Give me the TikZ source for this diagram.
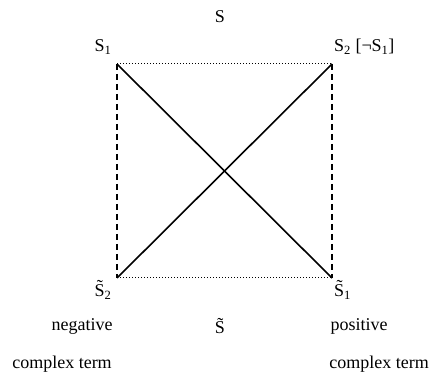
\documentclass[tikz,border=0pt]{standalone}
\usepackage{fontspec}
\setmainfont{Liberation Serif}
\usepackage{tikz}
\usetikzlibrary{calc}

\begin{document}
\begin{tikzpicture}[x=1pt,y=1pt,
    lbl/.style={inner sep=1pt, font=\fontsize{18}{21}\selectfont}]

\useasboundingbox (0,0) rectangle (438,374);

% Corners of the square
\coordinate (tl) at (117,310);
\coordinate (tr) at (332,310);
\coordinate (bl) at (117,96);
\coordinate (br) at (332,96);

% Corner labels
\node[lbl] (s) at (220,357) {S};
\node[lbl] (s1) at (103,327) {S\textsubscript{1}};
\node[lbl, anchor=west] (s2) at (333,327) {S\textsubscript{2} [¬S\textsubscript{1}]};
\node[lbl] (ts2) at (103,84) {\~{S}\textsubscript{2}};
\node[lbl, anchor=west] (ts1) at (333,84) {\~{S}\textsubscript{1}};

% Bottom labels
\node[lbl] (neg) at (82,48) {negative};
\node[lbl] (ts) at (220,48) {\~{S}};
\node[lbl] (pos) at (359,48) {positive};
\node[lbl] (cl) at (62,10) {complex term};
\node[lbl] (cr) at (379,10) {complex term};

% Sides of the square
\draw[dotted, line width=1pt] (tl) -- (tr);
\draw[dotted, line width=1pt] (bl) -- (br);
\draw[dash pattern=on 6pt off 4pt, line width=1.2pt] (tl) -- (bl);
\draw[dash pattern=on 6pt off 4pt, line width=1.2pt] (tr) -- (br);

% Diagonals
\draw[line width=1.6pt] (tl) -- (br);
\draw[line width=1.6pt] (bl) -- (tr);

\end{tikzpicture}
\end{document}
